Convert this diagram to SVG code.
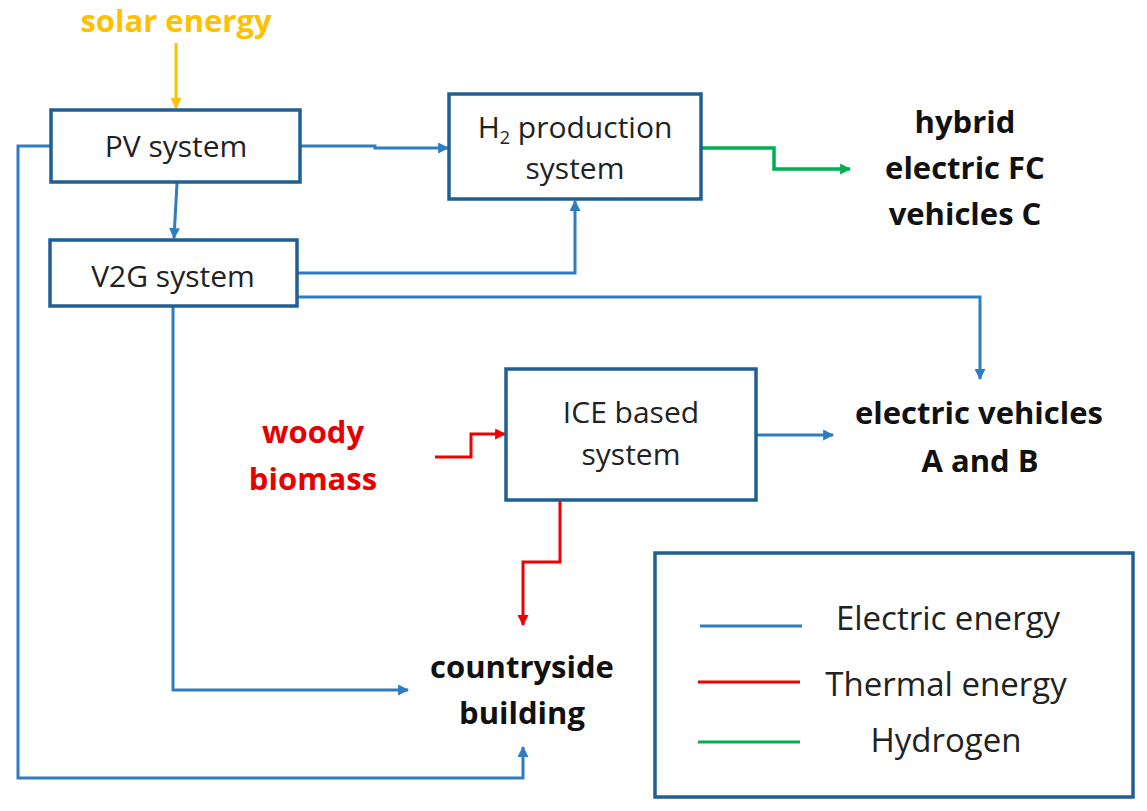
<svg xmlns="http://www.w3.org/2000/svg" width="1147" height="811" viewBox="0 0 1147 811">
<defs>
<style>
.box{fill:#fff;stroke:#1F5F92;stroke-width:3.5}
.t{font-family:"Open Sans",Lato,sans-serif;font-size:30px;fill:#222;text-anchor:middle}
.lg{font-size:33px}
.b{font-family:"Open Sans",Lato,sans-serif;font-size:31px;font-weight:bold;fill:#111;text-anchor:middle}
.e{fill:none;stroke:#2E7DC2;stroke-width:3;marker-end:url(#ab)}
.r{fill:none;stroke:#F00000;stroke-width:3;marker-end:url(#ar)}
.g{fill:none;stroke:#00B050;stroke-width:3.5;marker-end:url(#ag)}
</style>
<marker id="ab" viewBox="0 0 10 10" refX="9" refY="5" markerWidth="12" markerHeight="11" markerUnits="userSpaceOnUse" orient="auto"><path d="M0,0 L10,5 L0,10 Z" fill="#2E7DC2"/></marker>
<marker id="ar" viewBox="0 0 10 10" refX="9" refY="5" markerWidth="12" markerHeight="11" markerUnits="userSpaceOnUse" orient="auto"><path d="M0,0 L10,5 L0,10 Z" fill="#F00000"/></marker>
<marker id="ag" viewBox="0 0 10 10" refX="9" refY="5" markerWidth="12" markerHeight="11" markerUnits="userSpaceOnUse" orient="auto"><path d="M0,0 L10,5 L0,10 Z" fill="#00B050"/></marker>
<marker id="ao" viewBox="0 0 10 10" refX="9" refY="5" markerWidth="12" markerHeight="11" markerUnits="userSpaceOnUse" orient="auto"><path d="M0,0 L10,5 L0,10 Z" fill="#FFC000"/></marker>
</defs>
<rect width="1147" height="811" fill="#fff"/>
<g id="connectors">
<path d="M176,43 V108" fill="none" stroke="#FFC000" stroke-width="3" marker-end="url(#ao)"/>
<path class="e" d="M177,183 L174,238"/>
<path class="e" d="M301,146 H375 V148 H448"/>
<path class="e" d="M51,146 H18 V778 H523 V747"/>
<path class="e" d="M297,273 H575 V201"/>
<path class="e" d="M297,297 H980 V379"/>
<path class="e" d="M173,307 V690 H408"/>
<path class="e" d="M757,435 H833"/>
<path class="g" d="M702,148 H774 V169 H850"/>
<path class="r" d="M435,457 H471 V434 H505"/>
<path class="r" d="M560,501 V562 H523 V625"/>
</g>
<g id="solar"><text x="176" y="32" class="b" style="fill:#FFC000">solar energy</text></g>
<g id="pv"><rect class="box" x="51" y="110" width="249" height="72"/><text class="t" x="176" y="157">PV system</text></g>
<g id="v2g"><rect class="box" x="50" y="240" width="247" height="66"/><text class="t" x="173" y="287">V2G system</text></g>
<g id="h2"><rect class="box" x="449" y="94" width="252" height="105"/><text class="t" x="575" y="138">H<tspan font-size="18" dy="6">2</tspan><tspan dy="-6"> production</tspan></text><text class="t" x="575" y="179">system</text></g>
<g id="ice"><rect class="box" x="506" y="369" width="250" height="131"/><text class="t" x="631" y="423">ICE based</text><text class="t" x="631" y="465">system</text></g>
<g id="hybrid"><text class="b" x="965" y="133">hybrid</text><text class="b" x="965" y="179">electric FC</text><text class="b" x="965" y="225">vehicles C</text></g>
<g id="ev"><text class="b" x="979" y="424">electric vehicles</text><text class="b" x="980" y="472">A and B</text></g>
<g id="biomass"><text class="b" x="313" y="443" style="fill:#E60000">woody</text><text class="b" x="313" y="490" style="fill:#E60000">biomass</text></g>
<g id="building"><text class="b" x="522" y="678">countryside</text><text class="b" x="522" y="724">building</text></g>
<g id="legend">
<rect class="box" x="655" y="553" width="478" height="244"/>
<line x1="700" y1="626" x2="802" y2="626" stroke="#2E7DC2" stroke-width="3"/>
<line x1="698" y1="682" x2="800" y2="682" stroke="#F00000" stroke-width="3"/>
<line x1="698" y1="742" x2="800" y2="742" stroke="#00B050" stroke-width="3"/>
<text class="t lg" x="948" y="630">Electric energy</text>
<text class="t lg" x="946" y="696">Thermal energy</text>
<text class="t lg" x="946" y="752">Hydrogen</text>
</g>
</svg>
